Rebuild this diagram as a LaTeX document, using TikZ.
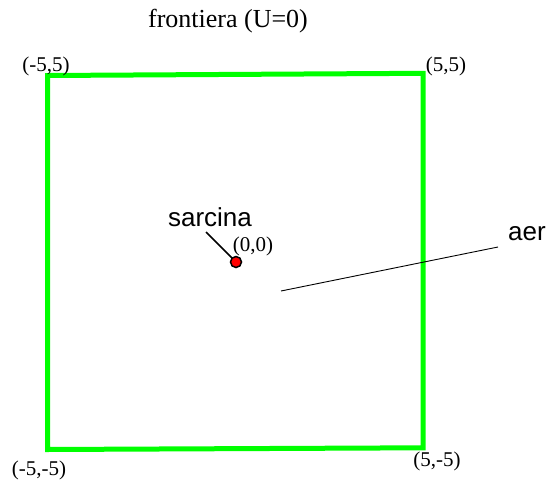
\documentclass[tikz,border=0pt]{standalone}
\usepackage{fontspec}
\setmainfont{Liberation Serif}
\newfontfamily\arialf{Liberation Sans}
\begin{document}
\begin{tikzpicture}[x=1pt,y=-1pt,
  serlab/.style={inner sep=0pt, font=\fontsize{21}{21}\selectfont},
  titlelab/.style={inner sep=0pt, font=\fontsize{26}{26}\selectfont},
  sanslab/.style={inner sep=0pt, font=\arialf\fontsize{26}{26}\selectfont},
  border/.style={draw={rgb,255:red,0;green,255;blue,0}, line width=5pt, line join=miter},
  pointer/.style={draw=black, line width=1.6pt},
  thinline/.style={draw=black, line width=0.9pt},
  source/.style={circle, fill=red, draw=black, line width=1.5pt, minimum size=11pt, inner sep=0pt}]
\useasboundingbox (0,0) rectangle (552,485);
\fill[white] (0,0) rectangle (552,485);
% corners
\coordinate (tl) at (47.5,75.5);
\coordinate (tr) at (423,73.3);
\coordinate (br) at (423,447.8);
\coordinate (bl) at (47.5,449.5);
\draw[border] (tl) -- (tr) -- (br) -- (bl) -- cycle;
% labels
\node[titlelab, anchor=base] (title) at (228,27) {frontiera (U=0)};
\node[serlab, anchor=base] (ltl) at (46,71) {(-5,5)};
\node[serlab, anchor=base] (ltr) at (446,71) {(5,5)};
\node[serlab, anchor=base] (lbl) at (39,475) {(-5,-5)};
\node[serlab, anchor=base] (lbr) at (437,466) {(5,-5)};
\node[serlab, anchor=base] (lor) at (253,251) {(0,0)};
% source
\coordinate (sp) at (206,232);
\draw[pointer] (sp) -- (236,262);
\node[source] (dot) at (236,262) {};
\node[sanslab, anchor=base] (sarcina) at (210,226) {sarcina};
% aer
\node[sanslab, anchor=base] (aer) at (527,240) {aer};
\coordinate (afoot) at (281,291);
\coordinate (atop) at (498,247);
\draw[thinline] (afoot) -- (atop);
\end{tikzpicture}
\end{document}
